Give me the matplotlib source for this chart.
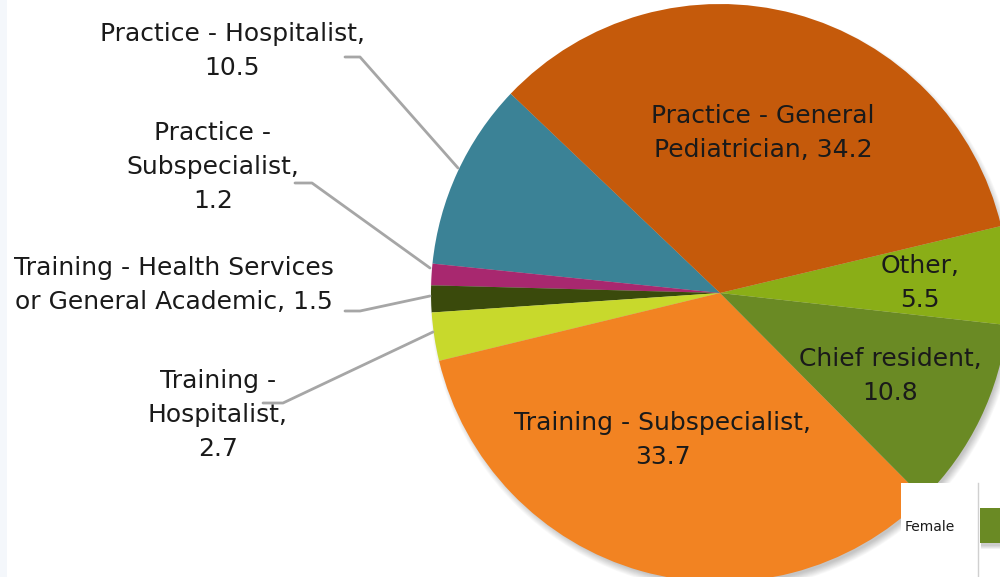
import matplotlib
matplotlib.use("Agg")
import matplotlib.pyplot as plt
from matplotlib.patches import Circle, Rectangle

categories = ["Practice - Hospitalist", "Practice - Subspecialist",
              "Training - Health Services or General Academic", "Training - Hospitalist",
              "Training - Subspecialist", "Chief resident", "Other",
              "Practice - General Pediatrician"]
values = [10.5, 1.2, 1.5, 2.7, 33.7, 10.8, 5.5, 34.2]
colors = ["#3B8296", "#A8286F", "#3A4A0C", "#C8D92C", "#F28322", "#6A8A24", "#8AAE17", "#C55A0B"]
label_texts = ["Practice - Hospitalist,\n10.5", "Practice -\nSubspecialist,\n1.2",
               "Training - Health Services\nor General Academic, 1.5", "Training -\nHospitalist,\n2.7",
               "Training - Subspecialist,\n33.7", "Chief resident,\n10.8", "Other,\n5.5",
               "Practice - General\nPediatrician, 34.2"]

W, H = 1000, 577
fig = plt.figure(figsize=(10, 5.77), dpi=100)
ax = fig.add_axes([0, 0, 1, 1])

def Y(y):
    return H - y

cx, cy, r = 720, Y(293), 289

# soft shadow
for i in range(10):
    ax.add_patch(Circle((cx + 3, cy - 5), r + 4 - i * 0.8, color="black", alpha=0.025, lw=0, zorder=1))

ax.pie(values, colors=colors, startangle=136.4, counterclock=True, radius=r, center=(cx, cy),
       wedgeprops=dict(linewidth=0, zorder=2), frame=True)
ax.set_xlim(0, W)
ax.set_ylim(0, H)
ax.axis("off")

font = ["DejaVu Sans"]
fs = 18
ls = 1.55

# label positions (center x, center y in pixel coords from top)
pos = [(232, 51), (213, 167), (174, 285), (218, 415), (663, 440), (890, 376), (920, 283), (763, 133)]
for (x, y), t in zip(pos, label_texts):
    ax.text(x, Y(y), t, ha="center", va="center", fontsize=fs, family=font, color="#1a1a1a",
            linespacing=ls, zorder=5)

# leader lines
lc = "#A6A6A6"
lines = [
    [(345, 57), (360, 57), (458, 168)],
    [(295, 183), (312, 183), (430, 268)],
    [(345, 311), (360, 311), (430, 296)],
    [(263, 403), (283, 403), (433, 332)],
]
for pts in lines:
    xs = [p[0] for p in pts]
    ys = [Y(p[1]) for p in pts]
    ax.plot(xs, ys, color=lc, lw=2, zorder=4, solid_capstyle="round")

# faint left strip
ax.add_patch(Rectangle((0, 0), 7, H, color="#F4F7FB", lw=0, zorder=0))

# partial legend box bottom right
ax.add_patch(Rectangle((901, 0), 77, Y(483), facecolor="white", edgecolor="none", zorder=6))
ax.plot([978, 978], [0, Y(483)], color="#D0D0D0", lw=1, zorder=7)
for i in range(4):
    ax.add_patch(Rectangle((980 + 1, Y(544) - 2 - i), 30, 35, color="black", alpha=0.05, lw=0, zorder=6))
ax.add_patch(Rectangle((980, Y(543)), 30, 35, color="#6A8A24", lw=0, zorder=7))
ax.text(905, Y(527), "Female", ha="left", va="center", fontsize=10, family=font, color="#1a1a1a", zorder=8)

fig.savefig("out.png", dpi=100)
